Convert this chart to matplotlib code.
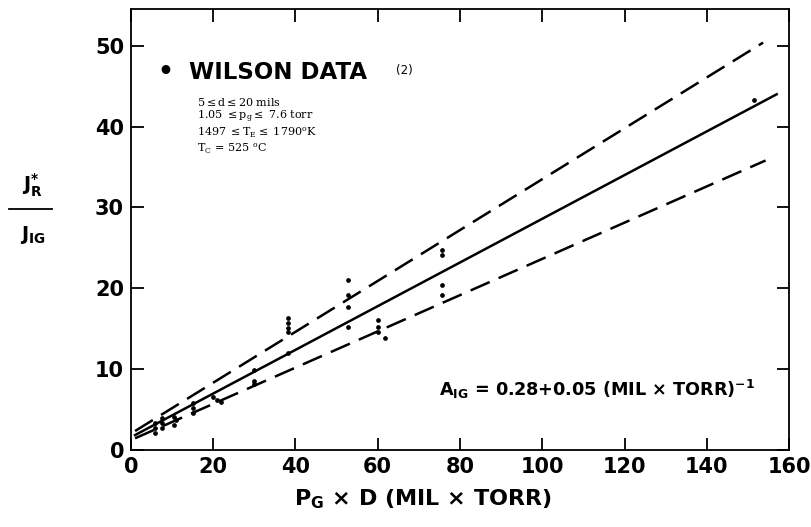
import matplotlib
matplotlib.use("Agg")
import matplotlib.pyplot as plt

# Wilson data points (P_G x D, J*_R / J_IG)
pd_x = [5.8, 5.8, 5.8, 7.5, 7.5, 7.5, 10.5, 11.0, 10.5,
        15.0, 15.0, 15.0, 20.0, 21.0, 22.0, 30.0, 30.0, 30.0,
        38.3, 38.3, 38.3, 38.3, 38.3,
        52.8, 52.8, 52.8, 52.8,
        60.0, 60.0, 60.0, 61.8,
        75.6, 75.6, 75.6, 75.6, 151.6]
ratio_y = [3.3, 2.7, 2.1, 3.9, 3.3, 2.7, 4.0, 3.7, 3.1,
           5.8, 5.1, 4.5, 6.5, 6.1, 5.9, 9.8, 8.5, 8.1,
           16.3, 15.7, 15.0, 14.5, 12.0,
           21.0, 19.1, 17.6, 15.2,
           16.0, 15.2, 14.6, 13.8,
           24.7, 24.1, 20.4, 19.1, 43.3]

# fitted line and error band (end points)
fit_x = [1.0, 157.0]
fit_y = [1.8, 44.0]
upper_x = [1.0, 153.7]
upper_y = [2.3, 50.4]
lower_x = [1.0, 154.3]
lower_y = [1.4, 35.8]

xticks = [0, 20, 40, 60, 80, 100, 120, 140, 160]
yticks = [0, 10, 20, 30, 40, 50]

plt.rcParams['lines.scale_dashes'] = False
plt.rcParams['mathtext.fontset'] = 'custom'
plt.rcParams['mathtext.rm'] = 'DejaVu Sans:bold'
plt.rcParams['mathtext.it'] = 'DejaVu Sans:bold'
plt.rcParams['mathtext.bf'] = 'DejaVu Sans:bold'
plt.rcParams['font.family'] = ['DejaVu Sans']

fig = plt.figure(figsize=(8.12, 5.27), dpi=100)
ax = fig.add_axes([0.1613, 0.1469, 0.8104, 0.8351])

ax.plot(fit_x, fit_y, color='black', lw=1.8)
ax.plot(upper_x, upper_y, color='black', lw=1.8, dashes=(15, 7))
ax.plot(lower_x, lower_y, color='black', lw=1.8, dashes=(15, 7))
ax.plot(pd_x, ratio_y, 'o', color='black', ms=2.4)

ax.set_xlim(0, 160)
ax.set_ylim(0, 54.5)
ax.set_xticks(xticks)
ax.set_yticks(yticks)
ax.tick_params(direction='in', length=9, width=1.3, top=True, right=True,
               labelsize=15, pad=5)
for lab in ax.get_xticklabels() + ax.get_yticklabels():
    lab.set_fontweight('bold')
for s in ax.spines.values():
    s.set_linewidth(1.3)

ax.text(8.3, 46.7, u'\u2022', fontsize=18, fontweight='bold', va='center', ha='center')
ax.text(14.0, 46.7, 'WILSON DATA', fontsize=16.5, fontweight='bold', va='center')
ax.text(64.5, 46.9, '(2)', fontsize=8.5, va='center')

cond = [r'5$\leq$d$\leq$20 mils',
        r'1.05 $\leq \mathrm{p}_\mathrm{g} \leq$ 7.6 torr',
        r'1497 $\leq \mathrm{T}_\mathrm{E} \leq$ 1790$^\mathrm{o}$K',
        r'T$_\mathrm{C}$ = 525 $^\mathrm{o}$C']
for i, line in enumerate(cond):
    ax.text(16.0, 43.1 - i * 1.95, line, fontsize=8, va='center',
            family=['DejaVu Serif'], math_fontfamily='dejavuserif')

ax.text(75.0, 7.4, r'A$_{\mathrm{IG}}$ = 0.28+0.05 (MIL $\times$ TORR)$^{\mathrm{-1}}$',
        fontsize=12.7, fontweight='bold', va='center')

fig.text(0.521, 0.052, r'P$_{\mathrm{G}}$ $\times$ D (MIL $\times$ TORR)', fontsize=16,
         fontweight='bold', ha='center', va='center')

# y label as a fraction
fig.text(0.040, 1 - 185 / 527, r'J$^{*}_{\mathrm{R}}$', fontsize=14, fontweight='bold',
         ha='center', va='center')
fig.add_artist(plt.Line2D([0.011, 0.064], [1 - 209 / 527, 1 - 209 / 527],
                          color='black', lw=1.3))
fig.text(0.041, 1 - 235 / 527, r'J$_{\mathrm{IG}}$', fontsize=14, fontweight='bold',
         ha='center', va='center')

fig.savefig('out.png', dpi=100)
